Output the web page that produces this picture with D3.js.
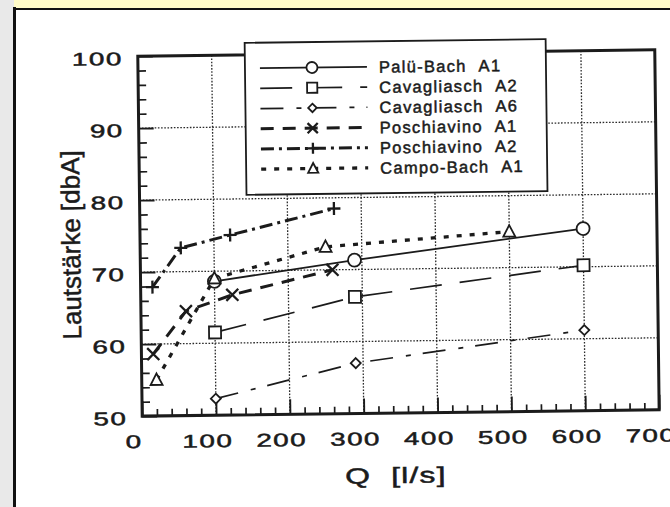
<!DOCTYPE html>
<html><head><meta charset="utf-8">
<script src="https://cdn.jsdelivr.net/npm/d3@7"></script>
<style>html,body{margin:0;padding:0;background:#fff;}svg{display:block;}
text{paint-order:stroke;stroke:#1b1b1b;stroke-width:0.5px;}</style>
</head><body>
<svg id="chart" width="670" height="507"></svg>
<script>
// ---- data ----
const xTickValues = [0, 100, 200, 300, 400, 500, 600, 700];
const yTickValues = [50, 60, 70, 80, 90, 100];
const seriesNames = ["Palü-Bach", "Cavagliasch", "Cavagliasch", "Poschiavino", "Poschiavino", "Campo-Bach"];
const seriesCodes = ["A1", "A2", "A6", "A1", "A2", "A1"];
const paluQ = [100, 290, 600],       paluL = [68.6, 71.3, 75.3];
const cavA2Q = [100, 290, 600],      cavA2L = [61.5, 66.2, 70.2];
const cavA6Q = [100, 290, 600],      cavA6L = [52.3, 57.0, 61.2];
const posA1Q = [16, 61, 124, 260],   posA1L = [58.6, 64.5, 66.7, 70.0];
const posA2Q = [16, 55, 122, 263],   posA2L = [67.9, 73.3, 75.0, 78.5];
const campoQ = [20, 100, 251, 500],  campoL = [55.0, 69.0, 73.2, 75.0];
const xTitle = "Q\u00a0\u00a0[l/s]";
const yTitle = "Lautstärke [dbA]";

const seriesQ = [paluQ, cavA2Q, cavA6Q, posA1Q, posA2Q, campoQ];
const seriesL = [paluL, cavA2L, cavA6L, posA1L, posA2L, campoL];

// ---- styles ----
const ink = "#1b1b1b";
const font = "'Liberation Sans', Arial, Helvetica, sans-serif";
const styles = [
  {dash: null,          w: 1.8, marker: "circle"},
  {dash: "32,18",       w: 1.7, marker: "square"},
  {dash: "23,13,5,12",  w: 1.7, marker: "diamond"},
  {dash: "13,9",        w: 3.0, marker: "x"},
  {dash: "13,5,3,5",    w: 3.0, marker: "plus"},
  {dash: "5,8",         w: 3.3, marker: "triangle"}
];

const svg = d3.select("#chart");
// page frame
svg.append("rect").attr("x",0).attr("y",0).attr("width",670).attr("height",507).attr("fill","#e9e9e9");
svg.append("rect").attr("x",14).attr("y",0).attr("width",656).attr("height",8).attr("fill","#fffbc8");
svg.append("rect").attr("x",15).attr("y",9).attr("width",655).attr("height",498).attr("fill","#ffffff");
svg.append("line").attr("x1",14.5).attr("x2",14.5).attr("y1",7).attr("y2",507).attr("stroke","#111").attr("stroke-width",3);
svg.append("line").attr("x1",13).attr("x2",670).attr("y1",9).attr("y2",9).attr("stroke","#111").attr("stroke-width",2);

const g = svg.append("g").attr("transform","rotate(-0.7,397,235)");

const x = d3.scaleLinear().domain([0, 700]).range([140, 657]);
const y = d3.scaleLinear().domain([50, 100]).range([413, 53]);

// grid
const gridX = xTickValues.filter(v => v > 0 && v < 700);
const gridY = yTickValues.filter(v => v > 50 && v < 100);
const grid = g.append("g").attr("stroke","#2a2a2a").attr("stroke-width",1.3).attr("stroke-dasharray","1.6,1.6");
grid.selectAll(".gx").data(gridX).join("line")
  .attr("x1", d => x(d)).attr("x2", d => x(d)).attr("y1", y(50)).attr("y2", y(100));
grid.selectAll(".gy").data(gridY).join("line")
  .attr("y1", d => y(d)).attr("y2", d => y(d)).attr("x1", x(0)).attr("x2", x(700));

// minor ticks
const xMinor = d3.range(20, 700, 20).filter(v => v % 100 !== 0);
const yMinor = d3.range(52, 100, 2).filter(v => v % 10 !== 0);
const axMinX = g.append("g").attr("transform",`translate(0,${y(50)})`)
  .call(d3.axisBottom(x).tickValues(xMinor).tickSize(-7).tickFormat(""));
const axMinY = g.append("g").attr("transform",`translate(${x(0)},0)`)
  .call(d3.axisLeft(y).tickValues(yMinor).tickSize(-8).tickFormat(""));
[axMinX, axMinY].forEach(a => { a.select(".domain").remove(); a.attr("color", ink); a.selectAll("line").attr("stroke-width",1.7); });

// major axes
const axX = g.append("g").attr("transform",`translate(0,${y(50)})`)
  .call(d3.axisBottom(x).tickValues(xTickValues).tickSize(-15).tickFormat(d3.format("d")));
const axY = g.append("g").attr("transform",`translate(${x(0)},0)`)
  .call(d3.axisLeft(y).tickValues(yTickValues).tickSize(-15).tickFormat(d3.format("d")));
[axX, axY].forEach(a => {
  a.select(".domain").remove();
  a.attr("color", ink).attr("font-family", font).attr("font-size", 18.5);
  a.selectAll("line").attr("stroke-width",1.9);
  a.selectAll("text").attr("fill", ink).style("letter-spacing","1px");
});
axX.selectAll("text").attr("y", 32).attr("dy", null).attr("transform","translate(-9,0) scale(1.5,1)");
axY.selectAll("text").attr("x", -10).attr("dy","0.45em").attr("transform","scale(1.5,1)");

// frame
g.append("rect").attr("x", x(0)).attr("y", y(100)).attr("width", x(700)-x(0)).attr("height", y(50)-y(100))
  .attr("fill","none").attr("stroke", ink).attr("stroke-width", 3);

// markers
function marker(sel, type, cx, cy, s) {
  s = s || 1;
  const m = sel.append("g").attr("transform",`translate(${cx},${cy})`)
    .attr("stroke", ink).attr("fill","#fff").attr("stroke-width",1.8);
  if (type === "circle") m.append("circle").attr("r", 6.5*s);
  else if (type === "square") m.append("rect").attr("x",-6*s).attr("y",-6*s).attr("width",12*s).attr("height",12*s);
  else if (type === "diamond") m.append("path").attr("d", `M0,${-5*s}L${5*s},0L0,${5*s}L${-5*s},0Z`);
  else if (type === "triangle") m.append("path").attr("d", `M0,${-6.5*s}L${6*s},${5*s}L${-6*s},${5*s}Z`);
  else if (type === "x") m.append("path").attr("d", `M${-6*s},${-6*s}L${6*s},${6*s}M${6*s},${-6*s}L${-6*s},${6*s}`).attr("stroke-width",2.3);
  else if (type === "plus") m.append("path").attr("d", `M${-6.5*s},0L${6.5*s},0M0,${-6.5*s}L0,${6.5*s}`).attr("stroke-width",2.3);
}

// series
const line = d3.line().x(d => x(d[0])).y(d => y(d[1]));
const gs = g.append("g");
seriesQ.forEach((qs, i) => {
  const pts = qs.map((q, j) => [q, seriesL[i][j]]);
  gs.append("path").attr("d", line(pts)).attr("fill","none").attr("stroke", ink)
    .attr("stroke-width", styles[i].w).attr("stroke-dasharray", styles[i].dash);
});
seriesQ.forEach((qs, i) => {
  qs.forEach((q, j) => marker(gs, styles[i].marker, x(q), y(seriesL[i][j])));
});

// legend
const lg = g.append("g");
lg.append("rect").attr("x",247).attr("y",41).attr("width",301).attr("height",152)
  .attr("fill","#fff").attr("stroke", ink).attr("stroke-width",1.8);
seriesNames.forEach((name, i) => {
  const ry = 66.5 + i*20.2;
  lg.append("line").attr("x1",262).attr("x2",369).attr("y1",ry).attr("y2",ry)
    .attr("stroke", ink).attr("stroke-width", styles[i].w).attr("stroke-dasharray", styles[i].dash);
  marker(lg, styles[i].marker, 314, ry, 0.85);
  lg.append("text").attr("x",381).attr("y",ry+6).attr("font-family",font).attr("font-size",16.5)
    .attr("fill", ink).style("letter-spacing","1.3px")
    .text(name + "\u00a0\u00a0" + seriesCodes[i]);
});

// axis titles
g.append("text").attr("transform","translate(393,483) scale(1.45,1)").attr("text-anchor","middle")
  .attr("font-family",font).attr("font-size",22).attr("fill",ink).style("letter-spacing","0.8px").text(xTitle);
g.append("text").attr("transform","translate(80,241) rotate(-90)").attr("text-anchor","middle")
  .attr("font-family",font).attr("font-size",26).attr("fill",ink).text(yTitle);
</script>
</body></html>
